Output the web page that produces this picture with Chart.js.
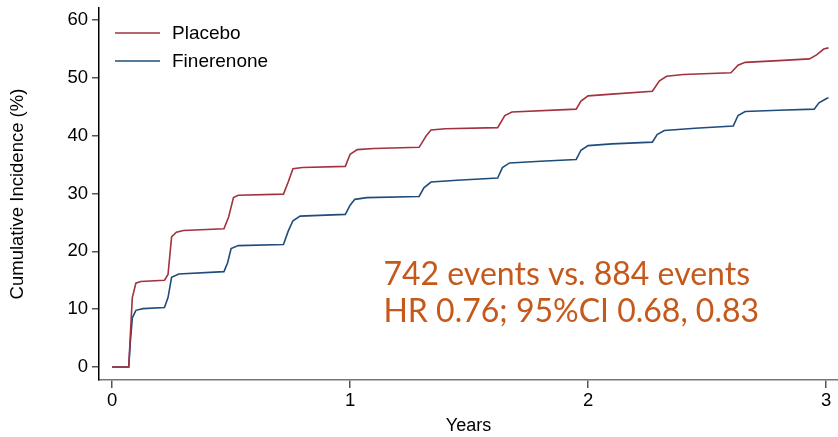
<!DOCTYPE html>
<html lang="en">
<head>
    <meta charset="UTF-8">
    <title>Cumulative Incidence</title>
    <script src="https://cdn.jsdelivr.net/npm/chart.js"></script>
    <style>
        html, body {
            margin: 0;
            padding: 0;
            background: white;
        }
        #wrap {
            width: 838px;
            height: 437px;
        }
    </style>
</head>
<body>
    <div id="wrap"><canvas id="incidenceChart"></canvas></div>
    <script>
        // values (years, cumulative incidence %)
        const placeboYears = [0, 0.07, 0.076, 0.085, 0.1, 0.12, 0.22, 0.235, 0.25, 0.27, 0.3, 0.47, 0.49, 0.51, 0.53, 0.72, 0.74, 0.76, 0.8, 0.98, 1.0, 1.03, 1.1, 1.29, 1.32, 1.34, 1.4, 1.62, 1.65, 1.68, 1.95, 1.97, 2.0, 2.1, 2.27, 2.3, 2.33, 2.4, 2.6, 2.63, 2.66, 2.8, 2.93, 2.96, 2.99, 3.01];
        const placeboPct = [0, 0, 5, 12, 14.5, 14.8, 15.0, 16, 22.5, 23.3, 23.6, 23.9, 26, 29.3, 29.7, 29.9, 32, 34.3, 34.5, 34.7, 36.8, 37.6, 37.8, 38.0, 40, 41.0, 41.2, 41.4, 43.5, 44.1, 44.6, 46.0, 46.9, 47.2, 47.7, 49.5, 50.3, 50.6, 50.9, 52.2, 52.7, 53.0, 53.3, 54.0, 55.0, 55.2];

        const finerenoneYears = [0, 0.07, 0.076, 0.085, 0.1, 0.13, 0.22, 0.235, 0.25, 0.28, 0.47, 0.485, 0.5, 0.53, 0.72, 0.74, 0.76, 0.79, 0.98, 1.0, 1.02, 1.07, 1.29, 1.31, 1.34, 1.45, 1.62, 1.64, 1.67, 1.8, 1.95, 1.97, 2.0, 2.1, 2.27, 2.29, 2.32, 2.45, 2.61, 2.63, 2.66, 2.8, 2.95, 2.97, 3.0, 3.01];
        const finerenonePct = [0, 0, 4, 8.5, 9.8, 10.1, 10.3, 12, 15.5, 16.1, 16.5, 18, 20.5, 21.0, 21.2, 23.5, 25.3, 26.1, 26.4, 28, 29.0, 29.3, 29.5, 31, 32.0, 32.3, 32.7, 34.5, 35.3, 35.6, 35.9, 37.5, 38.3, 38.6, 38.9, 40.2, 40.9, 41.3, 41.7, 43.5, 44.2, 44.4, 44.6, 45.7, 46.4, 46.6];

        const xTicks = [0, 1, 2, 3];
        const yTicks = [0, 10, 20, 30, 40, 50, 60];

        const annotationLines = ["742 events vs. 884 events", "HR 0.76; 95%CI 0.68, 0.83"];

        const redColor = "#a1323e";
        const blueColor = "#1f4c7b";
        const textFont = "'Liberation Sans', Arial, sans-serif";

        function toPoints(xs, ys) {
            return xs.map((x, i) => ({ x: x, y: ys[i] }));
        }

        // legend inside the plot, top left
        const insideLegend = {
            id: "insideLegend",
            afterDraw(chart) {
                const ctx = chart.ctx;
                const area = chart.chartArea;
                ctx.save();
                ctx.font = "19px " + textFont;
                ctx.textBaseline = "middle";
                chart.data.datasets.forEach((ds, i) => {
                    const y = area.top + 25 + i * 28;
                    ctx.strokeStyle = ds.borderColor;
                    ctx.lineWidth = 1.5;
                    ctx.beginPath();
                    ctx.moveTo(area.left + 16, y);
                    ctx.lineTo(area.left + 61, y);
                    ctx.stroke();
                    ctx.fillStyle = "#000";
                    ctx.fillText(ds.label, area.left + 73, y + 1);
                });
                ctx.restore();
            }
        };

        const resultText = {
            id: "resultText",
            afterDraw(chart) {
                const ctx = chart.ctx;
                const xs = chart.scales.x;
                const ys = chart.scales.y;
                ctx.save();
                ctx.font = "32px Lato, 'Open Sans', sans-serif";
                ctx.fillStyle = "#c5591b";
                ctx.textBaseline = "alphabetic";
                ctx.fillText(annotationLines[0], xs.getPixelForValue(1.14), ys.getPixelForValue(14.2));
                ctx.fillText(annotationLines[1], xs.getPixelForValue(1.14), ys.getPixelForValue(7.8));
                ctx.restore();
            }
        };

        new Chart(document.getElementById("incidenceChart"), {
            type: "scatter",
            data: {
                datasets: [
                    {
                        label: "Placebo",
                        data: toPoints(placeboYears, placeboPct),
                        borderColor: redColor,
                        showLine: true,
                        borderWidth: 1.6,
                        pointRadius: 0,
                        tension: 0
                    },
                    {
                        label: "Finerenone",
                        data: toPoints(finerenoneYears, finerenonePct),
                        borderColor: blueColor,
                        showLine: true,
                        borderWidth: 1.6,
                        pointRadius: 0,
                        tension: 0
                    }
                ]
            },
            options: {
                responsive: true,
                maintainAspectRatio: false,
                animation: false,
                layout: { padding: { top: 8, right: 0, left: 0, bottom: 0 } },
                plugins: {
                    legend: { display: false },
                    tooltip: { enabled: false }
                },
                scales: {
                    x: {
                        type: "linear",
                        min: -0.055,
                        max: 3.05,
                        afterBuildTicks(scale) {
                            scale.ticks = xTicks.map(v => ({ value: v }));
                        },
                        afterFit(scale) {
                            scale.height = 57;
                            scale.paddingLeft = 0;
                            scale.paddingRight = 0;
                        },
                        grid: { drawOnChartArea: false, drawTicks: true, tickLength: 8, color: "#555", lineWidth: 1.5 },
                        border: { display: true, color: "#777", width: 1.5 },
                        ticks: { color: "#000", font: { family: textFont, size: 18.5 }, padding: 2, maxRotation: 0 },
                        title: { display: true, text: "Years", color: "#000", font: { family: textFont, size: 18 }, padding: { top: 2, bottom: 0 } }
                    },
                    y: {
                        type: "linear",
                        min: -2.25,
                        max: 62.1,
                        afterBuildTicks(scale) {
                            scale.ticks = yTicks.map(v => ({ value: v }));
                        },
                        afterFit(scale) {
                            scale.width = 99;
                            scale.paddingTop = 0;
                            scale.paddingBottom = 0;
                        },
                        grid: { drawOnChartArea: false, drawTicks: true, tickLength: 7, color: "#555", lineWidth: 1.5 },
                        border: { display: true, color: "#000", width: 1.5 },
                        ticks: { color: "#000", font: { family: textFont, size: 18.5 }, padding: 4 },
                        title: { display: true, text: "Cumulative Incidence (%)", color: "#000", font: { family: textFont, size: 18.5 }, padding: { top: 7, bottom: 6 } }
                    }
                }
            },
            plugins: [insideLegend, resultText]
        });
    </script>
</body>
</html>
